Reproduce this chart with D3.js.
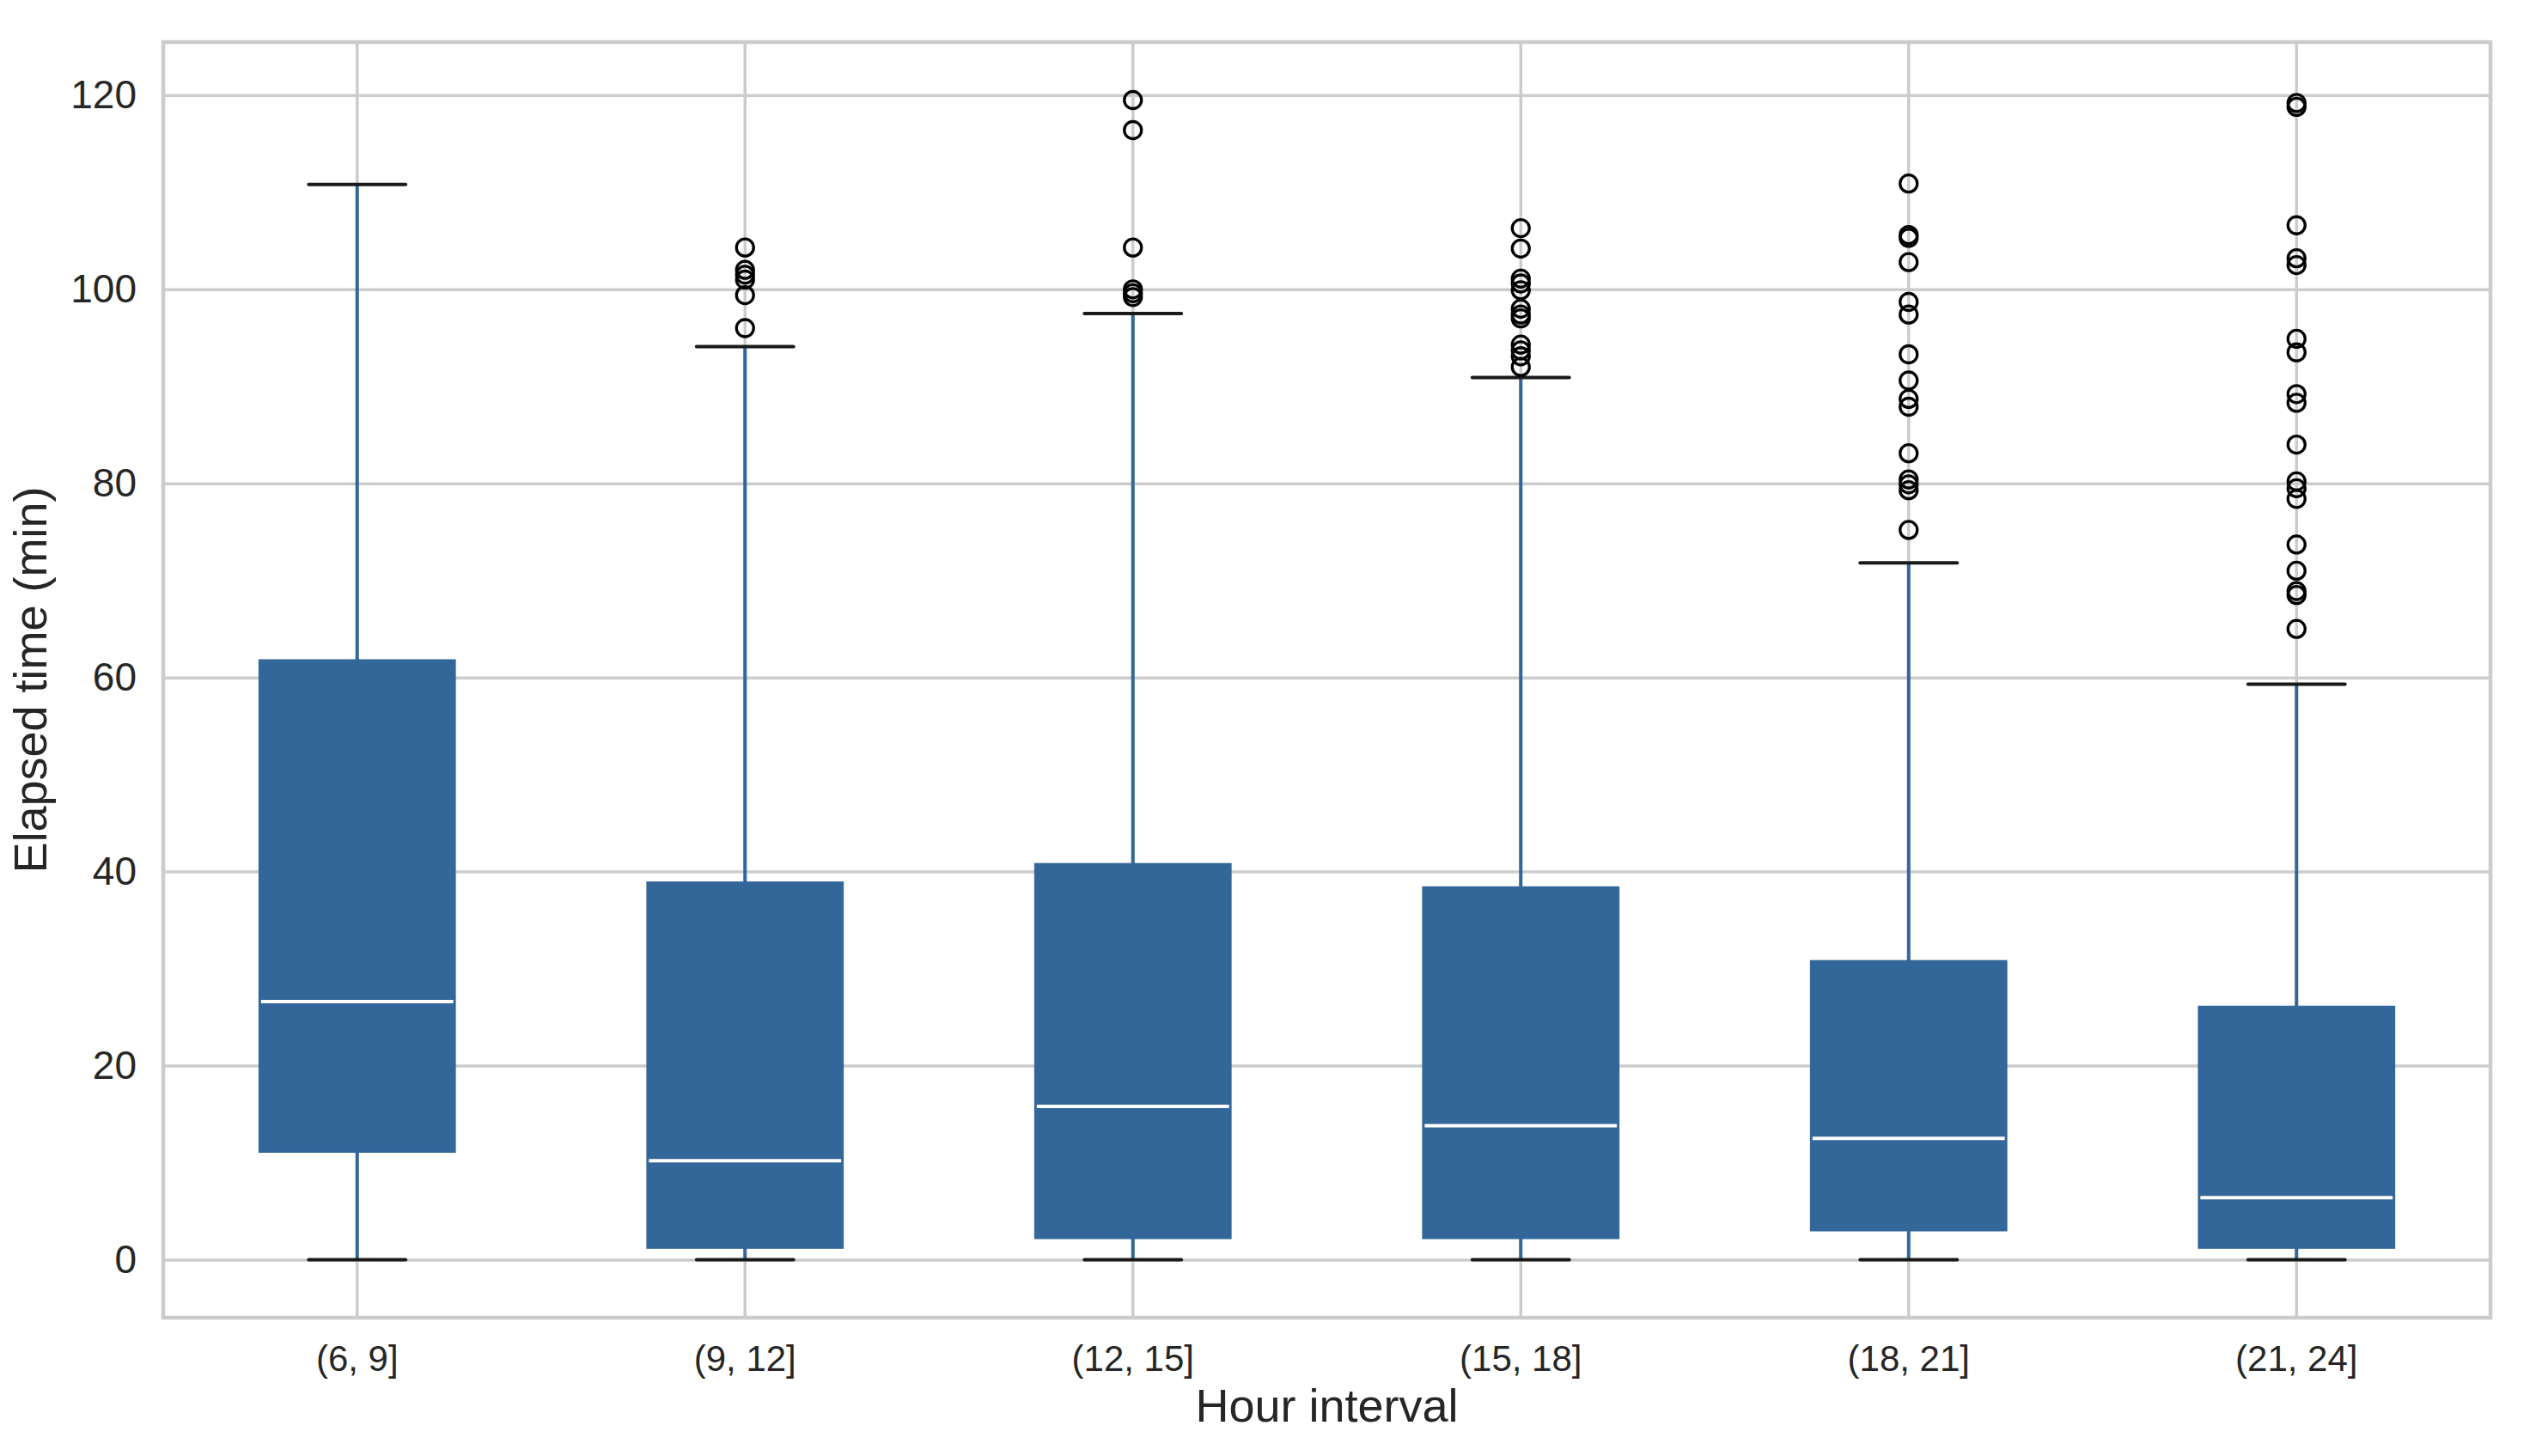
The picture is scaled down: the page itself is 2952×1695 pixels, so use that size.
<!DOCTYPE html>
<html>
<head>
<meta charset="utf-8">
<script src="https://cdn.jsdelivr.net/npm/d3@7"></script>
<style>
  html, body { margin: 0; padding: 0; background: #fff; }
  svg { display: block; }
  text { font-family: "Liberation Sans", Arial, sans-serif; fill: #262626; }
</style>
</head>
<body>
<div id="chart"></div>
<script>
// ---- data ----
const categories = ["(6, 9]", "(9, 12]", "(12, 15]", "(15, 18]", "(18, 21]", "(21, 24]"];
const whiskerLow = [0, 0, 0, 0, 0, 0];
const q1 = [11.2, 1.3, 2.3, 2.3, 3.1, 1.3];
const medians = [26.6, 10.2, 15.8, 13.8, 12.5, 6.4];
const q3 = [61.7, 38.8, 40.7, 38.3, 30.7, 26.0];
const whiskerHigh = [110.8, 94.1, 97.5, 90.9, 71.8, 59.3];
const outliers = [
    [],
    [104.3, 102.0, 101.5, 101.0, 99.4, 96.0],
    [119.5, 116.4, 104.3, 100.0, 99.6, 99.2],
    [106.3, 104.2, 101.1, 100.6, 99.9, 98.0, 97.4, 97.0, 94.3, 93.7, 93.1, 92.0],
    [110.9, 105.6, 105.3, 102.8, 98.7, 97.4, 93.3, 90.6, 88.7, 87.9, 83.1, 80.4, 79.9, 79.3, 75.2],
    [119.2, 118.8, 106.6, 103.2, 102.5, 94.9, 93.5, 89.2, 88.3, 84.0, 80.2, 79.5, 78.4, 73.7, 71.0, 68.9, 68.5, 65.0]
];
const yTicks = [0, 20, 40, 60, 80, 100, 120];

const W = 2952, H = 1695;
const margin = { top: 49, right: 53, bottom: 161, left: 190 };
const width = W - margin.left - margin.right;
const height = H - margin.top - margin.bottom;

const boxColor = "#336699";
const gridColor = "#cccccc";

const svg = d3.select("#chart")
    .append("svg")
    .attr("width", W)
    .attr("height", H);

const g = svg.append("g")
    .attr("transform", `translate(${margin.left}, ${margin.top})`);

// y range with matplotlib style 5% margins
const allValues = whiskerLow.concat(whiskerHigh, outliers.flat());
const yMin = d3.min(allValues), yMax = d3.max(allValues);
const pad = (yMax - yMin) * 0.05;
const y = d3.scaleLinear()
    .domain([yMin - pad, yMax + pad])
    .range([height, 0]);

const x = d3.scaleBand()
    .domain(categories)
    .range([0, width])
    .padding(0);
const cx = d => x(d) + x.bandwidth() / 2;
const boxW = x.bandwidth() * 0.5;

// horizontal grid
g.append("g")
    .call(d3.axisLeft(y).tickValues(yTicks).tickSize(-width).tickFormat(""))
    .call(s => s.select(".domain").remove())
    .selectAll("line")
    .attr("stroke", gridColor)
    .attr("stroke-width", 3.5);

// vertical grid
g.append("g")
    .selectAll("line")
    .data(categories)
    .enter()
    .append("line")
    .attr("x1", cx).attr("x2", cx)
    .attr("y1", 0).attr("y2", height)
    .attr("stroke", gridColor)
    .attr("stroke-width", 3.5);

// y tick labels
g.append("g")
    .call(d3.axisLeft(y).tickValues(yTicks).tickSize(0).tickPadding(31))
    .call(s => s.select(".domain").remove())
    .selectAll("text")
    .style("font-size", "46px")
    .attr("fill", "#262626");

// x tick labels
g.append("g")
    .attr("transform", `translate(0, ${height})`)
    .call(d3.axisBottom(x).tickSize(0).tickPadding(32))
    .call(s => s.select(".domain").remove())
    .selectAll("text")
    .style("font-size", "42px")
    .attr("fill", "#262626");

const boxes = g.append("g")
    .selectAll("g")
    .data(categories)
    .enter()
    .append("g");

// whiskers
boxes.append("line")
    .attr("x1", cx).attr("x2", cx)
    .attr("y1", (d, i) => y(whiskerLow[i]))
    .attr("y2", (d, i) => y(q1[i]))
    .attr("stroke", boxColor).attr("stroke-width", 4);
boxes.append("line")
    .attr("x1", cx).attr("x2", cx)
    .attr("y1", (d, i) => y(q3[i]))
    .attr("y2", (d, i) => y(whiskerHigh[i]))
    .attr("stroke", boxColor).attr("stroke-width", 4);

// caps
[whiskerLow, whiskerHigh].forEach(function (arr) {
    boxes.append("line")
        .attr("x1", d => cx(d) - boxW / 4)
        .attr("x2", d => cx(d) + boxW / 4)
        .attr("y1", (d, i) => y(arr[i]))
        .attr("y2", (d, i) => y(arr[i]))
        .attr("stroke", "#1a1a1a")
        .attr("stroke-width", 4)
        .attr("stroke-linecap", "round");
});

// boxes
boxes.append("rect")
    .attr("x", d => cx(d) - boxW / 2)
    .attr("width", boxW)
    .attr("y", (d, i) => y(q3[i]))
    .attr("height", (d, i) => y(q1[i]) - y(q3[i]))
    .attr("fill", boxColor)
    .attr("stroke", boxColor)
    .attr("stroke-width", 4);

// medians
boxes.append("line")
    .attr("x1", d => cx(d) - boxW / 2 + 1)
    .attr("x2", d => cx(d) + boxW / 2 - 1)
    .attr("y1", (d, i) => y(medians[i]))
    .attr("y2", (d, i) => y(medians[i]))
    .attr("stroke", "#ffffff")
    .attr("stroke-width", 4);

// outliers
boxes.each(function (d, i) {
    d3.select(this).selectAll("circle")
        .data(outliers[i])
        .enter()
        .append("circle")
        .attr("cx", cx(d))
        .attr("cy", v => y(v))
        .attr("r", 10)
        .attr("fill", "none")
        .attr("stroke", "#000")
        .attr("stroke-width", 3.3);
});

// frame
g.append("rect")
    .attr("x", 0).attr("y", 0)
    .attr("width", width).attr("height", height)
    .attr("fill", "none")
    .attr("stroke", gridColor)
    .attr("stroke-width", 4.5);

// axis titles
svg.append("text")
    .attr("x", margin.left + width / 2)
    .attr("y", 1655)
    .attr("text-anchor", "middle")
    .style("font-size", "54px")
    .text("Hour interval");

svg.append("text")
    .attr("transform", `translate(54, ${margin.top + height / 2}) rotate(-90)`)
    .attr("text-anchor", "middle")
    .style("font-size", "54px")
    .text("Elapsed time (min)");
</script>
</body>
</html>
